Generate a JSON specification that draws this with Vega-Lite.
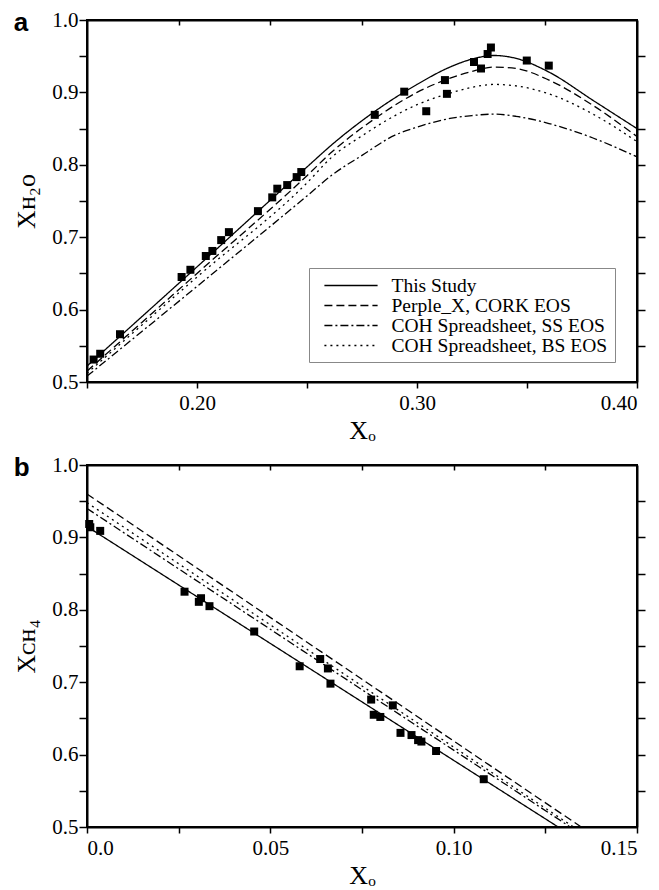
{
  "$schema": "https://vega.github.io/schema/vega-lite/v6.json",
  "padding": {"left": 12, "top": 8, "right": 5, "bottom": 5},
  "spacing": 9,
  "config": {
    "font": "Liberation Serif",
    "view": {"stroke": "black", "strokeWidth": 2},
    "axis": {
      "grid": false,
      "domainColor": "black",
      "domainWidth": 2,
      "tickColor": "black",
      "tickWidth": 1.5,
      "labelFont": "Liberation Serif",
      "labelFontSize": 21,
      "labelColor": "black",
      "titleFont": "Liberation Serif",
      "titleFontSize": 26,
      "titleFontWeight": "normal",
      "titleColor": "black"
    },
    "legend": {
      "labelFont": "Liberation Serif",
      "labelFontSize": 19.5,
      "labelColor": "black",
      "strokeColor": "#888",
      "fillColor": "white",
      "padding": 7,
      "symbolType": "M-2.8,0H2.8",
      "symbolStrokeColor": "black",
      "symbolStrokeWidth": 1.3,
      "symbolSize": 361,
      "symbolOffset": 24.5,
      "rowPadding": 0,
      "labelOffset": 30,
      "labelLimit": 400
    }
  },
  "datasets": {
    "a_pts": [
      {"xo": 0.153, "xw": 0.531}, {"xo": 0.156, "xw": 0.539}, {"xo": 0.165, "xw": 0.566},
      {"xo": 0.193, "xw": 0.645}, {"xo": 0.197, "xw": 0.655}, {"xo": 0.204, "xw": 0.674},
      {"xo": 0.207, "xw": 0.681}, {"xo": 0.211, "xw": 0.696}, {"xo": 0.2145, "xw": 0.707},
      {"xo": 0.2277, "xw": 0.736}, {"xo": 0.2342, "xw": 0.755}, {"xo": 0.2365, "xw": 0.767},
      {"xo": 0.241, "xw": 0.772}, {"xo": 0.2453, "xw": 0.783}, {"xo": 0.2474, "xw": 0.79},
      {"xo": 0.2808, "xw": 0.869}, {"xo": 0.2942, "xw": 0.901}, {"xo": 0.3042, "xw": 0.874},
      {"xo": 0.3127, "xw": 0.917}, {"xo": 0.3136, "xw": 0.898}, {"xo": 0.3259, "xw": 0.942},
      {"xo": 0.3291, "xw": 0.933}, {"xo": 0.3321, "xw": 0.953}, {"xo": 0.3336, "xw": 0.962},
      {"xo": 0.3499, "xw": 0.944}, {"xo": 0.3599, "xw": 0.937}
    ],
    "a_lines": [
      {"model": "This Study", "xo": 0.15, "xw": 0.522},
      {"model": "This Study", "xo": 0.2, "xw": 0.659},
      {"model": "This Study", "xo": 0.25, "xw": 0.797},
      {"model": "This Study", "xo": 0.2614, "xw": 0.828},
      {"model": "This Study", "xo": 0.28, "xw": 0.872},
      {"model": "This Study", "xo": 0.3, "xw": 0.911},
      {"model": "This Study", "xo": 0.315, "xw": 0.935},
      {"model": "This Study", "xo": 0.325, "xw": 0.946},
      {"model": "This Study", "xo": 0.335, "xw": 0.951},
      {"model": "This Study", "xo": 0.345, "xw": 0.947},
      {"model": "This Study", "xo": 0.36, "xw": 0.928},
      {"model": "This Study", "xo": 0.38, "xw": 0.889},
      {"model": "This Study", "xo": 0.4, "xw": 0.85},
      {"model": "Perple_X, CORK EOS", "xo": 0.15, "xw": 0.515},
      {"model": "Perple_X, CORK EOS", "xo": 0.2, "xw": 0.65},
      {"model": "Perple_X, CORK EOS", "xo": 0.25, "xw": 0.785},
      {"model": "Perple_X, CORK EOS", "xo": 0.2614, "xw": 0.818},
      {"model": "Perple_X, CORK EOS", "xo": 0.28, "xw": 0.862},
      {"model": "Perple_X, CORK EOS", "xo": 0.3, "xw": 0.9},
      {"model": "Perple_X, CORK EOS", "xo": 0.3127, "xw": 0.917},
      {"model": "Perple_X, CORK EOS", "xo": 0.325, "xw": 0.929},
      {"model": "Perple_X, CORK EOS", "xo": 0.335, "xw": 0.935},
      {"model": "Perple_X, CORK EOS", "xo": 0.345, "xw": 0.933},
      {"model": "Perple_X, CORK EOS", "xo": 0.36, "xw": 0.917},
      {"model": "Perple_X, CORK EOS", "xo": 0.38, "xw": 0.882},
      {"model": "Perple_X, CORK EOS", "xo": 0.4, "xw": 0.839},
      {"model": "COH Spreadsheet, SS EOS", "xo": 0.15, "xw": 0.508},
      {"model": "COH Spreadsheet, SS EOS", "xo": 0.2, "xw": 0.632},
      {"model": "COH Spreadsheet, SS EOS", "xo": 0.25, "xw": 0.757},
      {"model": "COH Spreadsheet, SS EOS", "xo": 0.2614, "xw": 0.786},
      {"model": "COH Spreadsheet, SS EOS", "xo": 0.275, "xw": 0.813},
      {"model": "COH Spreadsheet, SS EOS", "xo": 0.29, "xw": 0.841},
      {"model": "COH Spreadsheet, SS EOS", "xo": 0.3, "xw": 0.852},
      {"model": "COH Spreadsheet, SS EOS", "xo": 0.315, "xw": 0.864},
      {"model": "COH Spreadsheet, SS EOS", "xo": 0.325, "xw": 0.868},
      {"model": "COH Spreadsheet, SS EOS", "xo": 0.335, "xw": 0.87},
      {"model": "COH Spreadsheet, SS EOS", "xo": 0.345, "xw": 0.867},
      {"model": "COH Spreadsheet, SS EOS", "xo": 0.36, "xw": 0.857},
      {"model": "COH Spreadsheet, SS EOS", "xo": 0.38, "xw": 0.837},
      {"model": "COH Spreadsheet, SS EOS", "xo": 0.4, "xw": 0.811},
      {"model": "COH Spreadsheet, BS EOS", "xo": 0.15, "xw": 0.512},
      {"model": "COH Spreadsheet, BS EOS", "xo": 0.2, "xw": 0.645},
      {"model": "COH Spreadsheet, BS EOS", "xo": 0.25, "xw": 0.775},
      {"model": "COH Spreadsheet, BS EOS", "xo": 0.2614, "xw": 0.811},
      {"model": "COH Spreadsheet, BS EOS", "xo": 0.275, "xw": 0.84},
      {"model": "COH Spreadsheet, BS EOS", "xo": 0.29, "xw": 0.868},
      {"model": "COH Spreadsheet, BS EOS", "xo": 0.3, "xw": 0.883},
      {"model": "COH Spreadsheet, BS EOS", "xo": 0.315, "xw": 0.899},
      {"model": "COH Spreadsheet, BS EOS", "xo": 0.325, "xw": 0.907},
      {"model": "COH Spreadsheet, BS EOS", "xo": 0.335, "xw": 0.911},
      {"model": "COH Spreadsheet, BS EOS", "xo": 0.345, "xw": 0.909},
      {"model": "COH Spreadsheet, BS EOS", "xo": 0.36, "xw": 0.898},
      {"model": "COH Spreadsheet, BS EOS", "xo": 0.38, "xw": 0.87},
      {"model": "COH Spreadsheet, BS EOS", "xo": 0.4, "xw": 0.832}
    ],
    "b_pts": [
      {"xo": 0.0006, "xm": 0.9185}, {"xo": 0.0009, "xm": 0.914}, {"xo": 0.0036, "xm": 0.909},
      {"xo": 0.0266, "xm": 0.825}, {"xo": 0.0305, "xm": 0.811}, {"xo": 0.0311, "xm": 0.816},
      {"xo": 0.0334, "xm": 0.805}, {"xo": 0.0456, "xm": 0.77}, {"xo": 0.058, "xm": 0.722},
      {"xo": 0.0636, "xm": 0.732}, {"xo": 0.0657, "xm": 0.719}, {"xo": 0.0664, "xm": 0.698},
      {"xo": 0.0775, "xm": 0.676}, {"xo": 0.0782, "xm": 0.655}, {"xo": 0.08, "xm": 0.652},
      {"xo": 0.0834, "xm": 0.668}, {"xo": 0.0855, "xm": 0.63}, {"xo": 0.0885, "xm": 0.627},
      {"xo": 0.0903, "xm": 0.62}, {"xo": 0.0912, "xm": 0.618}, {"xo": 0.0952, "xm": 0.605},
      {"xo": 0.1082, "xm": 0.566}
    ],
    "b_lines": [
      {"model": "This Study", "xo": 0.0, "xm": 0.915},
      {"model": "This Study", "xo": 0.1285, "xm": 0.5},
      {"model": "Perple_X, CORK EOS", "xo": 0.0, "xm": 0.96},
      {"model": "Perple_X, CORK EOS", "xo": 0.1348, "xm": 0.5},
      {"model": "COH Spreadsheet, SS EOS", "xo": 0.0, "xm": 0.94},
      {"model": "COH Spreadsheet, SS EOS", "xo": 0.1318, "xm": 0.5},
      {"model": "COH Spreadsheet, BS EOS", "xo": 0.0, "xm": 0.948},
      {"model": "COH Spreadsheet, BS EOS", "xo": 0.1327, "xm": 0.5}
    ]
  },
  "vconcat": [
    {
      "width": 550,
      "height": 362,
      "title": {"text": "a", "anchor": "start", "frame": "bounds", "font": "Liberation Sans", "fontSize": 26, "fontWeight": "bold", "color": "black", "baseline": "alphabetic", "offset": -10, "dy": 38},
      "layer": [
        {
          "data": {"name": "a_lines"},
          "mark": {"type": "line", "color": "black", "strokeWidth": 1.3, "clip": true, "interpolate": "monotone"},
          "encoding": {
            "x": {"field": "xo", "type": "quantitative", "scale": {"domain": [0.15, 0.4], "nice": false, "zero": false},
              "axis": {"orient": "bottom", "title": "Xₒ", "values": [0.15, 0.2, 0.25, 0.3, 0.35, 0.4], "tickSize": 6, "labelPadding": 4, "titlePadding": 4,
                "labelExpr": "(datum.value > 0.19 && abs(datum.value*10 - round(datum.value*10)) < 0.001) ? format(datum.value, '.2f') : ''"}},
            "y": {"field": "xw", "type": "quantitative", "scale": {"domain": [0.5, 1.0], "nice": false, "zero": false},
              "axis": {"orient": "left", "title": "Xʜ₂ᴏ", "values": [0.5, 0.55, 0.6, 0.65, 0.7, 0.75, 0.8, 0.85, 0.9, 0.95, 1.0], "tickSize": 8, "labelPadding": 1, "titlePadding": 12,
                "labelExpr": "abs(datum.value*10 - round(datum.value*10)) < 0.001 ? format(datum.value, '.1f') : ''"}},
            "strokeDash": {"field": "model", "type": "nominal",
              "scale": {"domain": ["This Study", "Perple_X, CORK EOS", "COH Spreadsheet, SS EOS", "COH Spreadsheet, BS EOS"], "range": [[1, 0], [8, 4], [8, 3, 2, 3], [2, 4]]},
              "legend": {"title": null, "orient": "none", "legendX": 222, "legendY": 248}}
          }
        },
        {
          "data": {"name": "a_pts"},
          "mark": {"type": "square", "color": "black", "size": 64, "opacity": 1},
          "encoding": {
            "x": {"field": "xo", "type": "quantitative", "scale": {"domain": [0.15, 0.4], "nice": false, "zero": false},
              "axis": {"orient": "top", "title": null, "labels": false, "values": [0.19167, 0.23333, 0.275, 0.31667, 0.35833], "tickSize": -5}},
            "y": {"field": "xw", "type": "quantitative", "scale": {"domain": [0.5, 1.0], "nice": false, "zero": false},
              "axis": {"orient": "right", "title": null, "labels": false, "values": [0.55, 0.6, 0.65, 0.7, 0.75, 0.8, 0.85, 0.9, 0.95], "tickSize": 8}}
          }
        }
      ],
      "resolve": {"axis": {"x": "independent", "y": "independent"}}
    },
    {
      "width": 550,
      "height": 362,
      "title": {"text": "b", "anchor": "start", "frame": "bounds", "font": "Liberation Sans", "fontSize": 26, "fontWeight": "bold", "color": "black", "baseline": "alphabetic", "offset": -10, "dy": 38},
      "layer": [
        {
          "data": {"name": "b_lines"},
          "mark": {"type": "line", "color": "black", "strokeWidth": 1.3, "clip": true},
          "encoding": {
            "x": {"field": "xo", "type": "quantitative", "scale": {"domain": [0, 0.15], "nice": false, "zero": false},
              "axis": {"orient": "bottom", "title": "Xₒ", "values": [0, 0.025, 0.05, 0.075, 0.1, 0.125, 0.15], "tickSize": 6, "labelPadding": 4, "titlePadding": 4,
                "labelExpr": "datum.value == 0 ? '0.0' : (abs(datum.value*20 - round(datum.value*20)) < 0.001 ? format(datum.value, '.2f') : '')"}},
            "y": {"field": "xm", "type": "quantitative", "scale": {"domain": [0.5, 1.0], "nice": false, "zero": false},
              "axis": {"orient": "left", "title": "Xᴄʜ₄", "values": [0.5, 0.55, 0.6, 0.65, 0.7, 0.75, 0.8, 0.85, 0.9, 0.95, 1.0], "tickSize": 8, "labelPadding": 1, "titlePadding": 12,
                "labelExpr": "abs(datum.value*10 - round(datum.value*10)) < 0.001 ? format(datum.value, '.1f') : ''"}},
            "strokeDash": {"field": "model", "type": "nominal",
              "scale": {"domain": ["This Study", "Perple_X, CORK EOS", "COH Spreadsheet, SS EOS", "COH Spreadsheet, BS EOS"], "range": [[1, 0], [8, 4], [8, 3, 2, 3], [2, 4]]},
              "legend": {"title": null, "orient": "none", "legendX": 225, "legendY": 18}}
          }
        },
        {
          "data": {"name": "b_pts"},
          "mark": {"type": "square", "color": "black", "size": 64, "opacity": 1},
          "encoding": {
            "x": {"field": "xo", "type": "quantitative", "scale": {"domain": [0, 0.15], "nice": false, "zero": false},
              "axis": {"orient": "top", "title": null, "labels": false, "values": [0.025, 0.05, 0.075, 0.1, 0.125], "tickSize": -5}},
            "y": {"field": "xm", "type": "quantitative", "scale": {"domain": [0.5, 1.0], "nice": false, "zero": false},
              "axis": {"orient": "right", "title": null, "labels": false, "values": [0.55, 0.6, 0.65, 0.7, 0.75, 0.8, 0.85, 0.9, 0.95], "tickSize": 8}}
          }
        }
      ],
      "resolve": {"axis": {"x": "independent", "y": "independent"}}
    }
  ]
}
